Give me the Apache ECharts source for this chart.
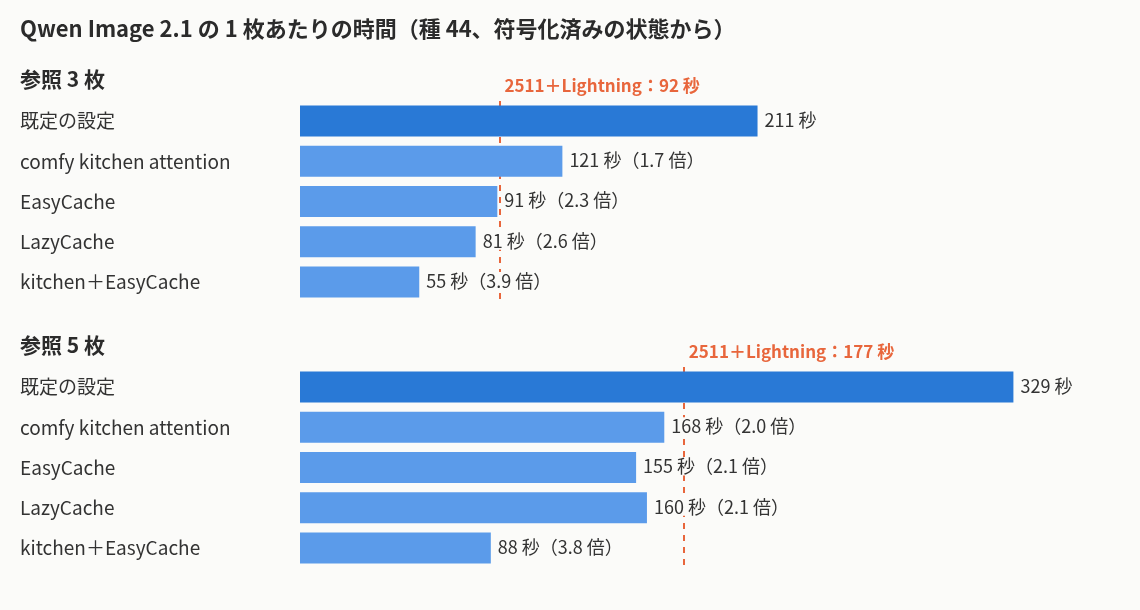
<!DOCTYPE html>
<html><head><meta charset="utf-8">
<script src="https://cdn.jsdelivr.net/npm/echarts@6/dist/echarts.min.js"></script>
<style>html,body{margin:0;padding:0;background:#fbfbf9;}#c{width:1140px;height:610px;}</style>
</head><body><div id="c"></div>
<script>
const chartTitle = 'Qwen Image 2.1 の 1 枚あたりの時間（種 44、符号化済みの状態から）';
const categories = ['既定の設定', 'comfy kitchen attention', 'EasyCache', 'LazyCache', 'kitchen＋EasyCache'];
const group1Title = '参照 3 枚';
const group2Title = '参照 5 枚';
const group1Seconds = [211, 121, 91, 81, 55];
const group2Seconds = [329, 168, 155, 160, 88];
const group1Speedup = [null, '1.7', '2.3', '2.6', '3.9'];
const group2Speedup = [null, '2.0', '2.1', '2.1', '3.8'];
const group1Lightning = 92;
const group2Lightning = 177;
const lightningName = '2511＋Lightning';

const FONT = '"Noto Sans CJK JP", "Noto Sans", sans-serif';
const BG = '#fbfbf9';
const DARK = '#2979d6';
const LIGHT = '#5b9bea';
const ORANGE = '#e8663c';
const TEXT = '#333333';
const XMAX = 380;

function barData(vals){
  return vals.map((v,i)=>({value:v, itemStyle:{color: i===0?DARK:LIGHT}}));
}
function labelFmt(sp){
  return p => sp[p.dataIndex] ? p.value + ' 秒（' + sp[p.dataIndex] + ' 倍）' : p.value + ' 秒';
}
function mkSeries(idx, vals, sp, lightning){
  return {
    type:'bar', xAxisIndex:idx, yAxisIndex:idx, data:barData(vals), barWidth:31,
    label:{show:true, position:'right', distance:7, formatter:labelFmt(sp), color:TEXT,
      fontSize:18, fontFamily:FONT, backgroundColor:BG, padding:[0,0,0,0], offset:[0,-1]},
    z:3,
    markLine:{silent:true, symbol:'none', z:1,
      lineStyle:{color:ORANGE, type:[6,6], width:2},
      label:{show:true, position:'start', formatter: lightningName + '：' + lightning + ' 秒',
        color:ORANGE, fontSize:17, fontWeight:'bold', fontFamily:FONT, align:'left', offset:[5,-2]},
      data:[{xAxis:lightning}]}
  };
}
function xAx(idx){
  return {type:'value', gridIndex:idx, min:0, max:XMAX, show:false};
}
function yAx(idx){
  return {type:'category', gridIndex:idx, data:categories, inverse:true,
    axisLine:{show:false}, axisTick:{show:false},
    axisLabel:{color:TEXT, fontSize:19, fontFamily:FONT, align:'left', margin:280}};
}
const chart = echarts.init(document.getElementById('c'));
chart.setOption({
  backgroundColor:BG,
  animation:false,
  title:[
    {text:chartTitle, left:20, top:18, padding:0, textStyle:{fontSize:22, fontWeight:'bold', color:'#2b2b2b', fontFamily:FONT}},
    {text:group1Title, left:20, top:69, padding:0, textStyle:{fontSize:21, fontWeight:'bold', color:'#2b2b2b', fontFamily:FONT}},
    {text:group2Title, left:20, top:335, padding:0, textStyle:{fontSize:21, fontWeight:'bold', color:'#2b2b2b', fontFamily:FONT}}
  ],
  grid:[
    {left:300, width:824, top:101, height:201},
    {left:300, width:824, top:367, height:201}
  ],
  xAxis:[xAx(0), xAx(1)],
  yAxis:[yAx(0), yAx(1)],
  series:[
    mkSeries(0, group1Seconds, group1Speedup, group1Lightning),
    mkSeries(1, group2Seconds, group2Speedup, group2Lightning)
  ]
});
</script></body></html>
